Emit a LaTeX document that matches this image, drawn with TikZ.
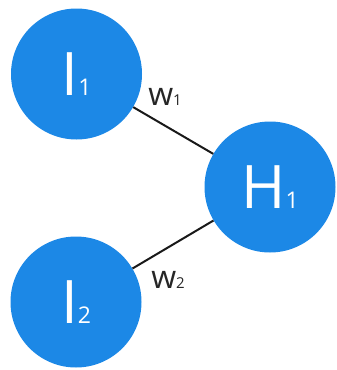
\documentclass[tikz,border=0pt]{standalone}
\usepackage{fontspec}
\setmainfont{Open Sans}
\definecolor{nblue}{RGB}{28,136,230}
\newcommand{\bigsub}[1]{{\fontsize{23}{23}\selectfont #1}}
\newcommand{\smallsub}[1]{{\fontsize{15}{15}\selectfont #1}}
\begin{document}
\begin{tikzpicture}[x=1pt,y=-1pt,
  neuron/.style={circle,fill=nblue,minimum size=131pt,inner sep=0pt,text=white,
    font=\fontsize{60}{60}\selectfont},
  wlabel/.style={inner sep=0pt,text=black!85,font=\fontsize{32}{32}\selectfont},
  conn/.style={line width=2pt,black!90}]
\useasboundingbox (0,0) rectangle (337,370);
\node[neuron] (i1) at (76.5,74) {I\bigsub{1}};
\node[neuron] (h1) at (270,187) {H\bigsub{1}};
\node[neuron] (i2) at (76,302) {I\bigsub{2}};
\draw[conn] (i1) -- (h1);
\draw[conn] (i2) -- (h1);
\node[wlabel] (w1) at (165,97) {w\smallsub{1}};
\node[wlabel] (w2) at (168,280) {w\smallsub{2}};
\end{tikzpicture}
\end{document}
